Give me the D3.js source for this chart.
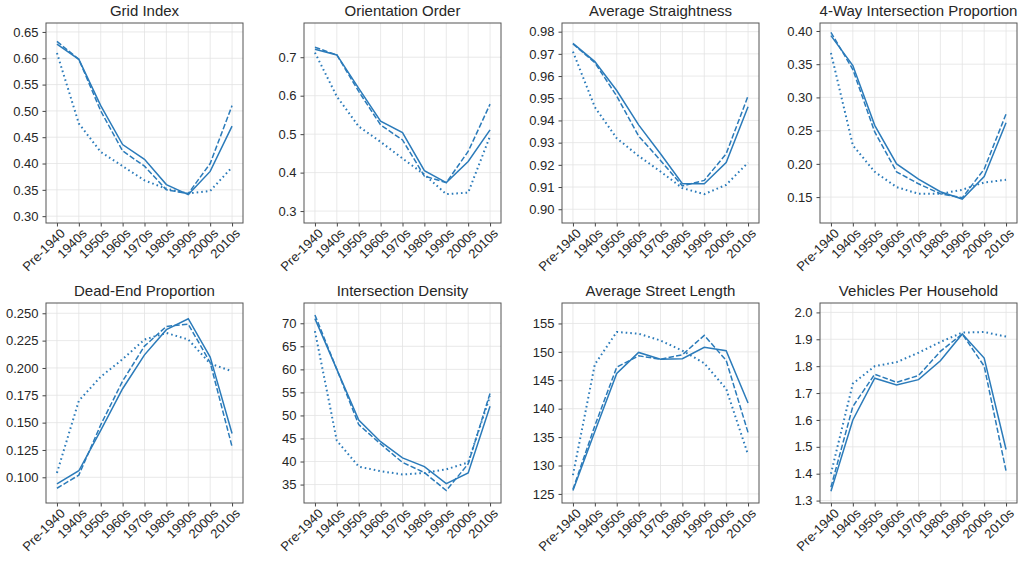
<!DOCTYPE html>
<html>
<head>
<meta charset="utf-8">
<script src="https://cdn.jsdelivr.net/npm/d3@7"></script>
<style>
  body { margin: 0; background: #fff; }
  svg { font-family: "Liberation Sans", Arial, sans-serif; }
</style>
</head>
<body>
<svg id="chart" width="1024" height="563"></svg>
<script>
// decades on the x axis
const decades = ["Pre-1940", "1940s", "1950s", "1960s", "1970s", "1980s", "1990s", "2000s", "2010s"];

const titles = ["Grid Index", "Orientation Order", "Average Straightness", "4-Way Intersection Proportion",
  "Dead-End Proportion", "Intersection Density", "Average Street Length", "Vehicles Per Household"];

// three series per panel: solid, dashed, dotted
const gridIndex = [
  [0.627, 0.598, 0.510, 0.436, 0.408, 0.360, 0.341, 0.385, 0.471],
  [0.632, 0.598, 0.500, 0.424, 0.395, 0.350, 0.343, 0.400, 0.510],
  [0.610, 0.476, 0.422, 0.395, 0.368, 0.352, 0.343, 0.348, 0.393]
];
const orientationOrder = [
  [0.721, 0.706, 0.619, 0.534, 0.504, 0.405, 0.374, 0.429, 0.511],
  [0.726, 0.706, 0.611, 0.524, 0.485, 0.391, 0.374, 0.455, 0.578],
  [0.712, 0.598, 0.520, 0.480, 0.437, 0.395, 0.344, 0.348, 0.495]
];
const straightness = [
  [0.9747, 0.9665, 0.9535, 0.9380, 0.9250, 0.9115, 0.9115, 0.9210, 0.9462],
  [0.9745, 0.9660, 0.9510, 0.9330, 0.9220, 0.9105, 0.9130, 0.9250, 0.9510],
  [0.9710, 0.9460, 0.9320, 0.9240, 0.9170, 0.9095, 0.9068, 0.9110, 0.9210]
];
const fourWay = [
  [0.393, 0.348, 0.258, 0.200, 0.177, 0.158, 0.147, 0.181, 0.262],
  [0.398, 0.342, 0.248, 0.188, 0.170, 0.155, 0.149, 0.192, 0.275],
  [0.367, 0.228, 0.188, 0.165, 0.155, 0.155, 0.161, 0.172, 0.176]
];
const deadEnd = [
  [0.094, 0.106, 0.143, 0.181, 0.212, 0.235, 0.245, 0.210, 0.140],
  [0.090, 0.102, 0.148, 0.188, 0.220, 0.238, 0.240, 0.205, 0.128],
  [0.104, 0.170, 0.192, 0.208, 0.226, 0.232, 0.226, 0.204, 0.197]
];
const intersectionDensity = [
  [71.0, 60.0, 49.0, 44.3, 40.8, 38.9, 35.2, 37.5, 52.0],
  [71.8, 60.0, 48.0, 43.8, 39.8, 37.6, 33.7, 39.5, 54.8],
  [68.3, 44.5, 38.9, 37.9, 37.2, 37.5, 38.3, 39.8, 54.2]
];
const streetLength = [
  [125.6, 136.0, 146.2, 149.9, 148.7, 148.8, 150.8, 150.2, 141.0],
  [125.8, 137.0, 147.3, 149.3, 148.7, 149.5, 152.9, 148.5, 135.8],
  [128.3, 147.8, 153.5, 153.2, 152.0, 150.2, 148.0, 143.5, 131.9]
];
const vehicles = [
  [1.335, 1.600, 1.755, 1.730, 1.750, 1.820, 1.920, 1.830, 1.490],
  [1.350, 1.650, 1.770, 1.740, 1.765, 1.855, 1.920, 1.800, 1.410],
  [1.400, 1.735, 1.800, 1.815, 1.850, 1.890, 1.925, 1.927, 1.910]
];

const panelData = [gridIndex, orientationOrder, straightness, fourWay, deadEnd, intersectionDensity, streetLength, vehicles];

// y domains and tick values per panel
const yDomains = [[0.287, 0.667], [0.269, 0.789], [0.8938, 0.9839], [0.111, 0.412],
  [0.0765, 0.2594], [31.0, 74.4], [123.4, 158.6], [1.291, 2.035]];
const yTicks = [
  [0.30, 0.35, 0.40, 0.45, 0.50, 0.55, 0.60, 0.65],
  [0.3, 0.4, 0.5, 0.6, 0.7],
  [0.90, 0.91, 0.92, 0.93, 0.94, 0.95, 0.96, 0.97, 0.98],
  [0.15, 0.20, 0.25, 0.30, 0.35, 0.40],
  [0.100, 0.125, 0.150, 0.175, 0.200, 0.225, 0.250],
  [35, 40, 45, 50, 55, 60, 65, 70],
  [125, 130, 135, 140, 145, 150, 155],
  [1.3, 1.4, 1.5, 1.6, 1.7, 1.8, 1.9, 2.0]
];
const yFormats = [".2f", ".1f", ".2f", ".2f", ".3f", "d", "d", ".1f"];

const svg = d3.select("#chart");
const color = "#2b7bba";
const dashes = [null, "5.5,2.2", "1.6,3"];

let panelW = 197, panelH = 200;
let lefts = [46, 304, 562, 820], tops = [23, 303];

panelData.forEach((series, i) => {
  let g = svg.append("g")
    .attr("transform", "translate(" + lefts[i % 4] + "," + tops[Math.floor(i / 4)] + ")");

  let x = d3.scalePoint().domain(decades).range([0, panelW]).padding(0.5);
  let y = d3.scaleLinear().domain(yDomains[i]).range([panelH, 0]);

  // grid
  g.append("g").selectAll("line").data(decades).enter().append("line")
    .attr("x1", d => x(d)).attr("x2", d => x(d))
    .attr("y1", 0).attr("y2", panelH)
    .attr("stroke", "#e3e3e3").attr("stroke-width", 0.8);
  g.append("g").selectAll("line").data(yTicks[i]).enter().append("line")
    .attr("x1", 0).attr("x2", panelW)
    .attr("y1", d => y(d)).attr("y2", d => y(d))
    .attr("stroke", "#e3e3e3").attr("stroke-width", 0.8);

  // axes
  let xAxis = g.append("g")
    .attr("transform", "translate(0," + panelH + ")")
    .call(d3.axisBottom(x).tickSize(3.5).tickPadding(3));
  xAxis.select(".domain").remove();
  xAxis.selectAll("line").attr("stroke", "#444");
  xAxis.selectAll("text")
    .attr("fill", "#262626")
    .style("font-size", "13px")
    .attr("text-anchor", "end")
    .attr("dy", "0.6em")
    .attr("transform", "rotate(-45) translate(-2,0)")
    .attr("x", 0).attr("y", 6);

  let yAxis = g.append("g")
    .call(d3.axisLeft(y).tickValues(yTicks[i]).tickFormat(d3.format(yFormats[i])).tickSize(3.5).tickPadding(4));
  yAxis.select(".domain").remove();
  yAxis.selectAll("line").attr("stroke", "#444");
  yAxis.selectAll("text").attr("fill", "#262626").style("font-size", "13px");

  // lines
  series.forEach((vals, k) => {
    let line = d3.line()
      .x((d, j) => x(decades[j]))
      .y(d => y(d));
    g.append("path")
      .datum(vals)
      .attr("d", line)
      .attr("fill", "none")
      .attr("stroke", color)
      .attr("stroke-width", k === 2 ? 2 : 1.5)
      .attr("stroke-dasharray", dashes[k]);
  });

  // frame
  g.append("rect")
    .attr("width", panelW).attr("height", panelH)
    .attr("fill", "none").attr("stroke", "#555").attr("stroke-width", 1);

  g.append("text")
    .attr("x", panelW / 2).attr("y", -7)
    .attr("text-anchor", "middle")
    .attr("fill", "#262626")
    .style("font-size", "15px")
    .text(titles[i]);
});
</script>
</body>
</html>
